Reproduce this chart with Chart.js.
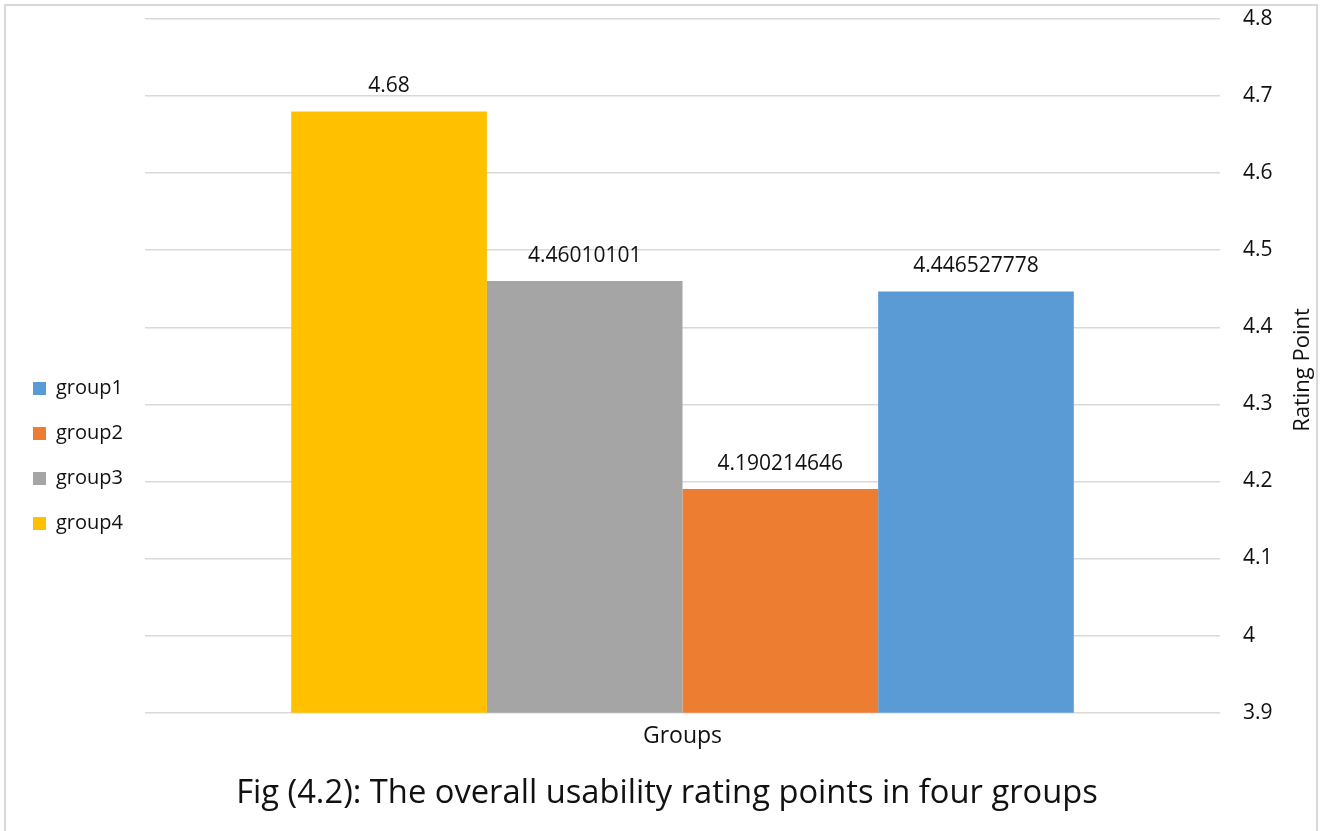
<!DOCTYPE html>
<html>
<head>
<meta charset="utf-8">
<script src="https://cdn.jsdelivr.net/npm/chart.js@4/dist/chart.umd.min.js"></script>
<style>
  html, body { margin: 0; padding: 0; background: #ffffff; overflow: hidden; }
  #wrap { position: relative; width: 1326px; height: 831px; }
  #chart { position: absolute; left: 0; top: 0; display: block; }
  #frame { position: absolute; left: 4px; top: 4px; width: 1310px; height: 840px;
           border: 2px solid #d9d9d9; pointer-events: none; }
</style>
</head>
<body>
<div id="wrap">
  <canvas id="chart" width="1326" height="831"></canvas>
  <div id="frame"></div>
</div>
<script>
// Usability rating points per group
const categories = ['Groups'];
const seriesNames = ['group4', 'group3', 'group2', 'group1'];
const seriesValues = [4.68, 4.46010101, 4.190214646, 4.446527778];
const seriesColors = ['#FFC000', '#A5A5A5', '#ED7D31', '#5B9BD5'];
const yTicks = [3.9, 4, 4.1, 4.2, 4.3, 4.4, 4.5, 4.6, 4.7, 4.8];

const FONT = '"Open Sans", Lato, sans-serif';
const TEXT = '#111111';
const LEGEND_WIDTH = 137;   // space kept for the legend column on the left

// Value labels above each bar
const valueLabels = {
  id: 'valueLabels',
  afterDatasetsDraw(chart) {
    const ctx = chart.ctx;
    ctx.save();
    ctx.font = '21px ' + FONT;
    ctx.fillStyle = TEXT;
    ctx.textAlign = 'center';
    ctx.textBaseline = 'middle';
    chart.data.datasets.forEach((ds, i) => {
      const meta = chart.getDatasetMeta(i);
      meta.data.forEach((bar, j) => {
        ctx.fillText(String(ds.data[j]), bar.x, bar.y - 25);
      });
    });
    ctx.restore();
  }
};

// Right axis title, reading bottom to top
const rightAxisTitle = {
  id: 'rightAxisTitle',
  afterDraw(chart) {
    const ctx = chart.ctx;
    ctx.save();
    ctx.font = '22px ' + FONT;
    ctx.fillStyle = TEXT;
    ctx.textAlign = 'center';
    ctx.textBaseline = 'middle';
    ctx.translate(1303, 370);
    ctx.rotate(-Math.PI / 2);
    ctx.fillText('Rating Point', 0, 0);
    ctx.restore();
  }
};

// Fixed-width legend column
const legendWidth = {
  id: 'legendWidth',
  afterInit(chart) {
    const legend = chart.legend;
    if (!legend) return;
    const fit = legend.fit;
    legend.fit = function () {
      fit.call(this);
      this.width = LEGEND_WIDTH;
    };
  }
};

new Chart(document.getElementById('chart'), {
  type: 'bar',
  data: {
    labels: categories,
    datasets: seriesNames.map((name, i) => ({
      label: name,
      data: [seriesValues[i]],
      backgroundColor: seriesColors[i],
      borderWidth: 0,
      barPercentage: 1,
      categoryPercentage: 0.728
    }))
  },
  options: {
    responsive: false,
    animation: false,
    devicePixelRatio: 1,
    layout: { padding: { top: 19, left: 8, right: 0, bottom: 8 } },
    plugins: {
      tooltip: { enabled: false },
      legend: {
        position: 'left',
        reverse: true,
        title: {
          display: true,
          text: '',
          font: { size: 10, lineHeight: 1 },
          padding: { top: 0, bottom: 60 }
        },
        labels: {
          font: { family: FONT, size: 20 },
          color: TEXT,
          boxWidth: 13,
          boxHeight: 13,
          padding: 25
        }
      },
      title: {
        display: true,
        position: 'bottom',
        text: 'Fig (4.2): The overall usability rating points in four groups',
        font: { family: FONT, size: 32.7, weight: 'normal', lineHeight: 1.2 },
        color: TEXT,
        padding: { top: 13.5, bottom: 10 }
      }
    },
    scales: {
      x: {
        grid: { display: false, drawTicks: false },
        border: { display: false },
        ticks: { font: { family: FONT, size: 23, lineHeight: 1.2 }, color: TEXT, padding: 10 }
      },
      y: {
        position: 'right',
        min: 3.9,
        max: 4.8,
        afterBuildTicks(scale) {
          scale.ticks = yTicks.map(v => ({ value: v }));
        },
        afterFit(scale) { scale.width = 106; },
        grid: {
          color: '#d9d9d9',
          lineWidth: 1.5,
          drawTicks: true,
          tickLength: 23,
          tickColor: 'rgba(0,0,0,0)'
        },
        border: { display: false },
        ticks: {
          font: { family: FONT, size: 21 },
          color: TEXT,
          padding: 0,
          callback: v => String(Math.round(v * 10) / 10)
        }
      }
    }
  },
  plugins: [legendWidth, valueLabels, rightAxisTitle]
});
</script>
</body>
</html>
